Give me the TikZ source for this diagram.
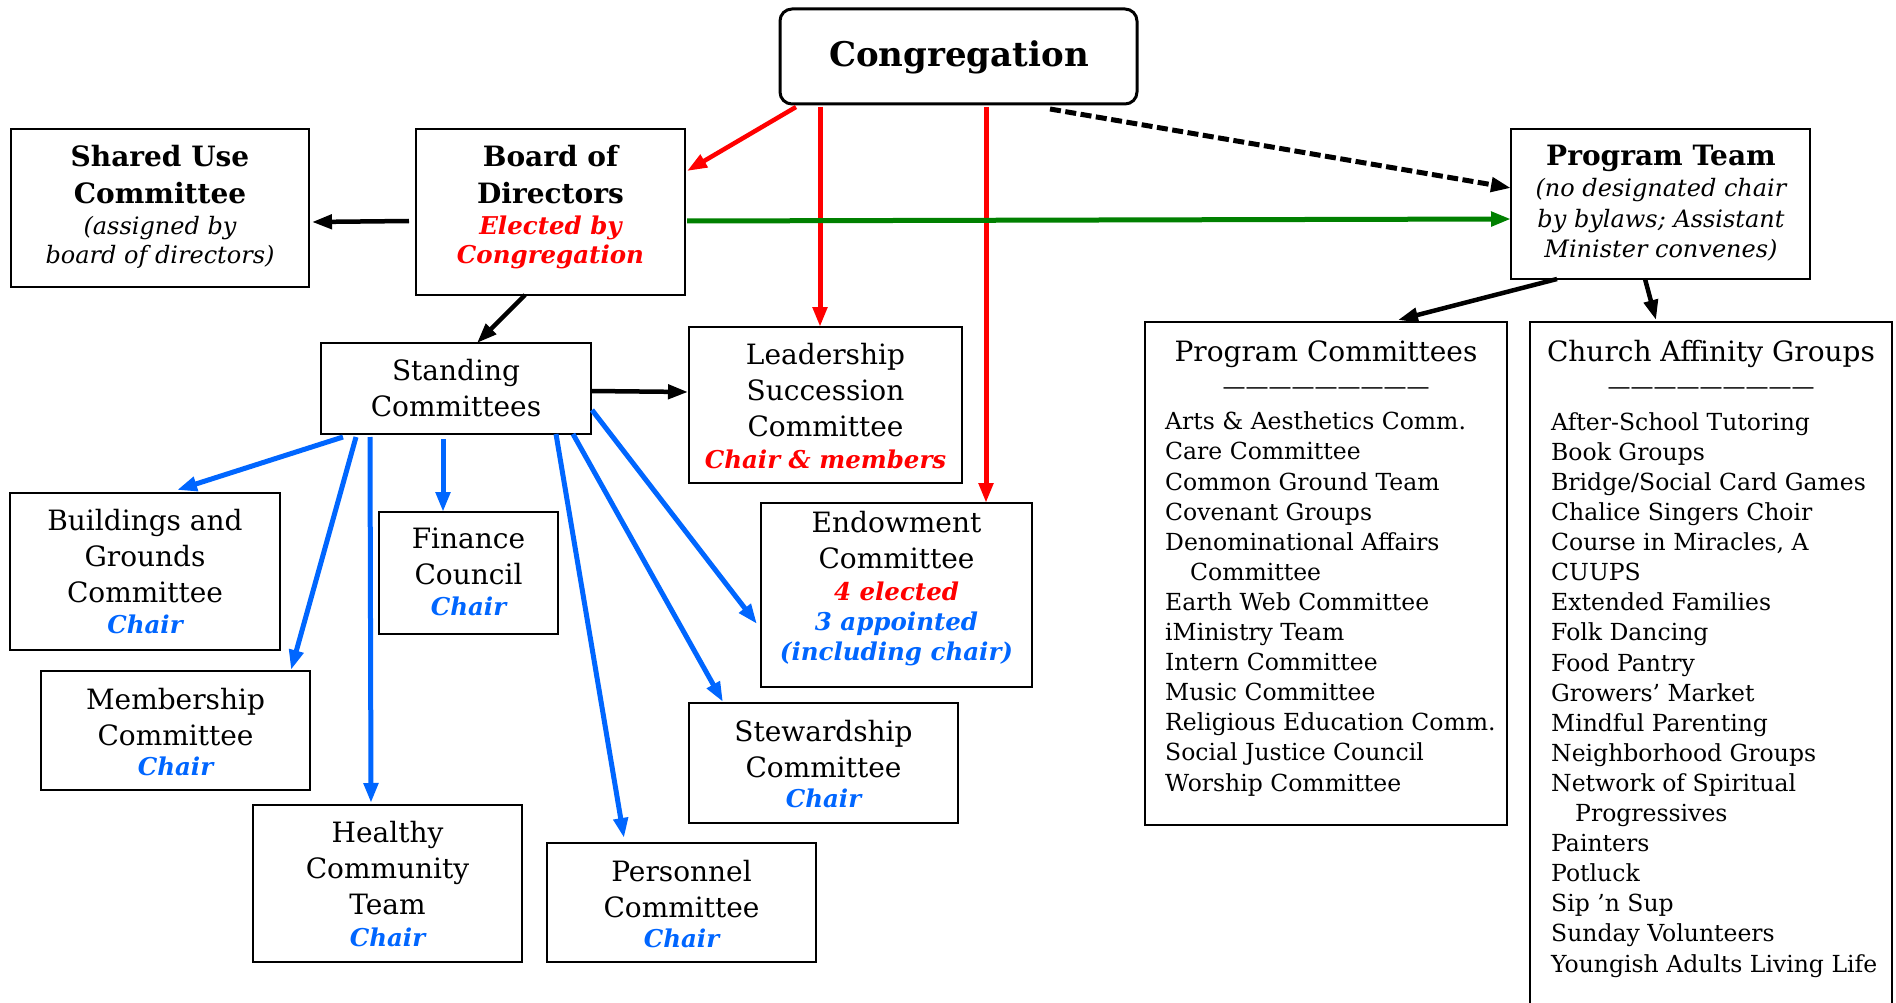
\documentclass[tikz,border=0pt]{standalone}
\usepackage{fontspec}
\setmainfont{DejaVu Serif}
\usetikzlibrary{arrows.meta}
\definecolor{cred}{RGB}{255,0,0}
\definecolor{cblue}{RGB}{0,102,255}
\definecolor{cgreen}{RGB}{0,128,0}
\newcommand\fsz[2]{\fontsize{#1pt}{#2pt}\selectfont}
\newcommand\chairtxt{{\color{cblue}\fsz{24.5}{30}\bfseries\itshape Chair}}
\newcommand\redbi[1]{{\color{cred}\fsz{24.5}{30}\bfseries\itshape #1}}
\newcommand\bluebi[1]{{\color{cblue}\fsz{24.5}{30}\bfseries\itshape #1}}
\newcommand\itl[1]{{\fsz{24}{30}\mdseries\itshape #1}}
\begin{document}
\begin{tikzpicture}[x=1pt,y=-1pt,
  box/.style={draw, line width=1.5pt, inner sep=0pt, outer sep=0pt},
  txt/.style={align=center, anchor=base, inner sep=0pt, font=\fsz{28}{36}},
  ttl/.style={align=center, anchor=base, inner sep=0pt, font=\fsz{28}{36}\bfseries},
  lst/.style={align=left, anchor=base west, inner sep=0pt, font=\fsz{23.5}{30.1}},
  arr/.style={line width=4.5pt, -{Triangle[length=20pt,width=14pt]}},
  redarr/.style={arr, draw=cred},
  bluearr/.style={arr, draw=cblue, line width=5pt},
  blackarr/.style={arr, draw=black, line width=4.5pt},
]
\path[fill=white, use as bounding box] (0,0) rectangle (1896,1003);

% boxes
\node[box, rounded corners=12pt, line width=3pt, minimum width=357, minimum height=95] (cong) at (958.5,56.5) {};
\node[box, minimum width=298, minimum height=158] (su) at (160,208) {};
\node[box, minimum width=269, minimum height=166] (bod) at (550.5,212) {};
\node[box, minimum width=299, minimum height=150] (pt) at (1660.5,204) {};
\node[box, minimum width=270, minimum height=91] (sc) at (456,388.5) {};
\node[box, minimum width=273, minimum height=156] (ls) at (825.5,405) {};
\node[box, minimum width=270, minimum height=157] (bg) at (145,571.5) {};
\node[box, minimum width=179, minimum height=122] (fc) at (468.5,573) {};
\node[box, minimum width=271, minimum height=184] (ec) at (896.5,595) {};
\node[box, minimum width=269, minimum height=119] (mc) at (175.5,730.5) {};
\node[box, minimum width=269, minimum height=157] (hc) at (387.5,883.5) {};
\node[box, minimum width=269, minimum height=119] (pc) at (681.5,902.5) {};
\node[box, minimum width=269, minimum height=120] (sw) at (823.5,763) {};
\node[box, minimum width=362, minimum height=503] (prc) at (1326,573.5) {};
\node[box, draw=none, minimum width=362, minimum height=688] (cag) at (1711,666) {};
\draw[line width=1.5pt] (cag.south west) -- (cag.north west) -- (cag.north east) -- (cag.south east);

% texts (anchor base = baseline of the last line)
\node[ttl, font=\fsz{34}{40}\bfseries] (cong-t) at (959,67) {Congregation};
\node[ttl] (su-t) at (160,264) {Shared Use\\Committee\\[-4pt]\itl{(assigned by}\\[-7pt]\itl{board of directors)}};
\node[ttl] (bod-t) at (550.5,264) {Board of\\Directors\\[-4pt]\redbi{Elected by}\\[-7pt]\redbi{Congregation}};
\node[ttl] (pt-t) at (1661,258) {Program Team\\[-5pt]\itl{(no designated chair}\\[-5pt]\itl{by bylaws; Assistant}\\[-6pt]\itl{Minister convenes)}};
\node[txt] (sc-t) at (456,416) {Standing\\Committees};
\node[txt] (ls-t) at (825.5,468) {Leadership\\Succession\\Committee\\[-4pt]\redbi{Chair \& members}};
\node[txt] (ec-t) at (896.5,660) {Endowment\\Committee\\[-4pt]\redbi{4 elected}\\[-6pt]\bluebi{3 appointed}\\[-6pt]\bluebi{(including chair)}};
\node[txt] (bg-t) at (145,633) {Buildings and\\Grounds\\Committee\\[-5pt]\chairtxt};
\node[txt] (fc-t) at (468.5,615) {Finance\\Council\\[-5pt]\chairtxt};
\node[txt] (mc-t) at (175.5,775) {Membership\\Committee\\[-6pt]\chairtxt};
\node[txt] (hc-t) at (387.5,946) {Healthy\\Community\\Team\\[-4pt]\chairtxt};
\node[txt] (pc-t) at (681.5,947) {Personnel\\Committee\\[-6pt]\chairtxt};
\node[txt] (sw-t) at (823.5,807) {Stewardship\\Committee\\[-6pt]\chairtxt};

\node[txt, font=\fsz{28}{30}] (prc-t) at (1326,361) {Program Committees};
\node[txt, font=\fsz{23}{30}] (prc-d) at (1326,394) {—————————};
\node[lst] (prc-l) at (1165,791) {Arts \& Aesthetics Comm.\\Care Committee\\Common Ground Team\\Covenant Groups\\Denominational Affairs\\\hspace*{25pt}Committee\\Earth Web Committee\\iMinistry Team\\Intern Committee\\Music Committee\\Religious Education Comm.\\Social Justice Council\\Worship Committee};

\node[txt, font=\fsz{28}{30}] (cag-t) at (1711,361) {Church Affinity Groups};
\node[txt, font=\fsz{23}{30}] (cag-d) at (1711,394) {—————————};
\node[lst] (cag-l) at (1551,972) {After-School Tutoring\\Book Groups\\Bridge/Social Card Games\\Chalice Singers Choir\\Course in Miracles, A\\CUUPS\\Extended Families\\Folk Dancing\\Food Pantry\\Growers’ Market\\Mindful Parenting\\Neighborhood Groups\\Network of Spiritual\\\hspace*{24pt}Progressives\\Painters\\Potluck\\Sip ’n Sup\\Sunday Volunteers\\Youngish Adults Living Life};

% connectors
\draw[redarr, line width=4.5pt] ([xshift=16pt,yshift=-3pt]cong.south west) -- ([xshift=2pt,yshift=-42pt]bod.north east);
\draw[redarr, line width=5pt] ([xshift=40pt,yshift=-3pt]cong.south west) -- ([xshift=-5.5pt]ls.north);
\draw[redarr, line width=5pt] ([xshift=206pt,yshift=-3pt]cong.south west) -- ([xshift=89.5pt]ec.north);
\draw[blackarr, line width=5pt, dash pattern=on 11pt off 4.5pt] ([xshift=270pt,yshift=-5pt]cong.south west) -- ([yshift=16pt]pt.west);
\draw[arr, draw=cgreen, line width=5pt] ([xshift=2pt,yshift=-9pt]bod.east) -- ([yshift=-15pt]pt.west);
\draw[blackarr] ([xshift=-7pt,yshift=-9pt]bod.west) -- ([xshift=3pt,yshift=-14pt]su.east);
\draw[blackarr] ([xshift=-25.5pt]bod.south) -- ([xshift=21pt]sc.north);
\draw[blackarr] ([yshift=-2.5pt]sc.east) -- ([xshift=-1pt,yshift=13pt]ls.west);
\draw[bluearr] ([xshift=22pt,yshift=-3pt]sc.south west) -- ([xshift=32pt,yshift=3pt]bg.north);
\draw[bluearr] ([xshift=35pt,yshift=-3pt]sc.south west) -- ([xshift=-19pt,yshift=1pt]mc.north east);
\draw[bluearr] ([xshift=49pt,yshift=-3pt]sc.south west) -- ([xshift=-16.5pt,yshift=2pt]hc.north);
\draw[bluearr] ([xshift=122pt,yshift=-5pt]sc.south west) -- ([xshift=-25.5pt]fc.north);
\draw[bluearr] ([xshift=-35pt]sc.south east) -- ([xshift=-57.5pt,yshift=5pt]pc.north);
\draw[bluearr] ([xshift=-18pt]sc.south east) -- ([xshift=34pt,yshift=1pt]sw.north west);
\draw[bluearr] ([xshift=1pt,yshift=-21.5pt]sc.east) -- ([xshift=-4pt,yshift=-29pt]ec.west);
\draw[blackarr] ([xshift=-103.5pt]pt.south) -- ([xshift=72pt,yshift=2pt]prc.north);
\draw[blackarr] ([xshift=-15.5pt]pt.south) -- ([xshift=-55pt,yshift=2pt]cag.north);
\end{tikzpicture}
\end{document}
